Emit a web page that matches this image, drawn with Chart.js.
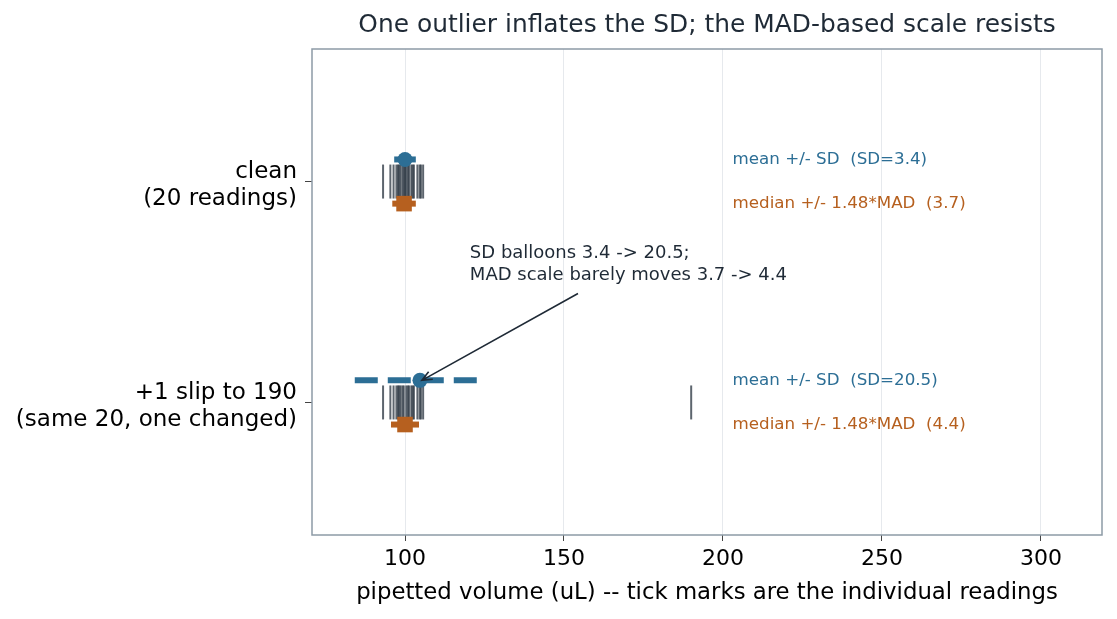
<!DOCTYPE html>
<html>
<head>
<meta charset="utf-8">
<script src="https://cdn.jsdelivr.net/npm/chart.js@4.4.1/dist/chart.umd.min.js"></script>
<style>
  body { margin: 0; background: #ffffff; }
  #wrap { width: 1117px; height: 619px; }
</style>
</head>
<body>
<div id="wrap"><canvas id="chart" width="1117" height="619"></canvas></div>
<script>
// row labels (top to bottom)
const rowLabels = [
    ['clean', '(20 readings)'],
    ['+1 slip to 190', '(same 20, one changed)']
];
const rowPos = [0, 1];

// individual readings
const cleanReadings = [93.1, 95.4, 96.4, 97.3, 97.8, 98.2, 98.6, 99.2, 99.6, 100.0,
                       100.4, 100.9, 101.3, 102.0, 102.4, 102.8, 103.9, 104.6, 105.0, 105.7];
const slipReadings = [93.1, 95.4, 96.4, 97.3, 97.8, 98.2, 98.6, 99.2, 99.6, 190.0,
                      100.4, 100.9, 101.3, 102.0, 102.4, 102.8, 103.9, 104.6, 105.0, 105.7];

// summary stats per row
const means = [100.0, 104.7];
const sds = [3.4, 20.5];
const medians = [99.7, 100.0];
const madScales = [3.7, 4.4];

const meanTexts = ['mean +/- SD  (SD=3.4)', 'mean +/- SD  (SD=20.5)'];
const medianTexts = ['median +/- 1.48*MAD  (3.7)', 'median +/- 1.48*MAD  (4.4)'];
const noteLines = ['SD balloons 3.4 -> 20.5;', 'MAD scale barely moves 3.7 -> 4.4'];
const titleText = 'One outlier inflates the SD; the MAD-based scale resists';

const xTicks = [100, 150, 200, 250, 300];

const BLUE = '#2c6e95';
const ORANGE = '#b6601f';
const INK = '#1f2a36';
const TICKCOL = 'rgba(31, 42, 54, 0.72)';
const FAMILY = '"DejaVu Sans", sans-serif';

function readingPoints(arr, y) {
    return arr.map(v => ({ x: v, y: y }));
}

const datasets = [
    {
        data: readingPoints(cleanReadings, rowPos[0]),
        pointStyle: 'line', rotation: 90, radius: 17,
        borderWidth: 2, borderColor: TICKCOL, order: 6
    },
    {
        data: readingPoints(slipReadings, rowPos[1]),
        pointStyle: 'line', rotation: 90, radius: 17,
        borderWidth: 2, borderColor: TICKCOL, order: 6
    },
    {
        data: [{ x: means[0] - sds[0], y: rowPos[0] - 0.1 }, { x: means[0] + sds[0], y: rowPos[0] - 0.1 }],
        showLine: true, borderWidth: 6, borderColor: BLUE, pointRadius: 0, borderCapStyle: 'butt', order: 3
    },
    {
        data: [{ x: means[1] - sds[1], y: rowPos[1] - 0.1 }, { x: means[1] + sds[1], y: rowPos[1] - 0.1 }],
        showLine: true, borderWidth: 6, borderColor: BLUE, pointRadius: 0, borderCapStyle: 'butt',
        borderDash: [23, 10], order: 3
    },
    {
        data: [{ x: medians[0] - madScales[0], y: rowPos[0] + 0.1 }, { x: medians[0] + madScales[0], y: rowPos[0] + 0.1 }],
        showLine: true, borderWidth: 6, borderColor: ORANGE, pointRadius: 0, borderCapStyle: 'butt', order: 3
    },
    {
        data: [{ x: medians[1] - madScales[1], y: rowPos[1] + 0.1 }, { x: medians[1] + madScales[1], y: rowPos[1] + 0.1 }],
        showLine: true, borderWidth: 6, borderColor: ORANGE, pointRadius: 0, borderCapStyle: 'butt', order: 3
    },
    {
        data: means.map((m, i) => ({ x: m, y: rowPos[i] - 0.1 })),
        pointStyle: 'circle', radius: 7.5, backgroundColor: BLUE, borderWidth: 0, order: 1
    },
    {
        data: medians.map((m, i) => ({ x: m, y: rowPos[i] + 0.1 })),
        pointStyle: 'rect', radius: 11, backgroundColor: ORANGE, borderWidth: 0, order: 1
    }
];

// frame, title, side labels and the arrow note
const extras = {
    id: 'extras',
    afterDatasetsDraw(chart) {
        const ctx = chart.ctx;
        const xs = chart.scales.x;
        const ys = chart.scales.y;
        ctx.save();
        ctx.font = '16.7px ' + FAMILY;
        ctx.textAlign = 'left';
        ctx.textBaseline = 'middle';
        rowPos.forEach((p, i) => {
            ctx.fillStyle = BLUE;
            ctx.fillText(meanTexts[i], xs.getPixelForValue(203), ys.getPixelForValue(p - 0.1));
            ctx.fillStyle = ORANGE;
            ctx.fillText(medianTexts[i], xs.getPixelForValue(203), ys.getPixelForValue(p + 0.1));
        });

        ctx.font = '18px ' + FAMILY;
        ctx.fillStyle = INK;
        ctx.fillText(noteLines[0], xs.getPixelForValue(120.4), ys.getPixelForValue(0.326));
        ctx.fillText(noteLines[1], xs.getPixelForValue(120.4), ys.getPixelForValue(0.425));

        // arrow
        const x0 = xs.getPixelForValue(154.4), y0 = ys.getPixelForValue(0.507);
        const x1 = xs.getPixelForValue(105.3), y1 = ys.getPixelForValue(0.9);
        ctx.strokeStyle = INK;
        ctx.lineWidth = 1.6;
        ctx.beginPath();
        ctx.moveTo(x0, y0);
        ctx.lineTo(x1, y1);
        const ang = Math.atan2(y1 - y0, x1 - x0);
        const hl = 11;
        ctx.moveTo(x1 - hl * Math.cos(ang - 0.4), y1 - hl * Math.sin(ang - 0.4));
        ctx.lineTo(x1, y1);
        ctx.lineTo(x1 - hl * Math.cos(ang + 0.4), y1 - hl * Math.sin(ang + 0.4));
        ctx.stroke();
        ctx.restore();
    },
    afterDraw(chart) {
        const a = chart.chartArea;
        const ctx = chart.ctx;
        ctx.save();
        ctx.strokeStyle = '#8d9ba6';
        ctx.lineWidth = 1.5;
        ctx.strokeRect(a.left, a.top, a.right - a.left, a.bottom - a.top);

        ctx.font = '24.9px ' + FAMILY;
        ctx.fillStyle = INK;
        ctx.textAlign = 'center';
        ctx.textBaseline = 'middle';
        ctx.fillText(titleText, (a.left + a.right) / 2, 26);
        ctx.restore();
    }
};

new Chart(document.getElementById('chart'), {
    type: 'scatter',
    data: { datasets: datasets },
    plugins: [extras],
    options: {
        responsive: false,
        animation: false,
        devicePixelRatio: 1,
        layout: { autoPadding: false, padding: { left: 0, right: 15, top: 49, bottom: 0 } },
        plugins: {
            legend: { display: false },
            tooltip: { enabled: false },
            title: { display: false }
        },
        scales: {
            x: {
                type: 'linear',
                min: 70.75,
                max: 319.2,
                afterBuildTicks: scale => { scale.ticks = xTicks.map(v => ({ value: v })); },
                afterFit: scale => {
                    scale.height = 84;
                    scale.paddingLeft = 0;
                    scale.paddingRight = 0;
                },
                grid: { color: '#e6e9ed', lineWidth: 1, tickLength: 6, tickColor: '#444', drawTicks: true },
                border: { display: false },
                ticks: { color: '#000', padding: 5, font: { family: FAMILY, size: 22 } },
                title: {
                    display: true,
                    text: 'pipetted volume (uL) -- tick marks are the individual readings',
                    color: '#000',
                    font: { family: FAMILY, size: 22.8 },
                    padding: { top: 0, bottom: 12 }
                }
            },
            y: {
                type: 'linear',
                min: -0.6,
                max: 1.6,
                reverse: true,
                afterBuildTicks: scale => { scale.ticks = rowPos.map(v => ({ value: v })); },
                afterFit: scale => { scale.width = 312; },
                grid: { drawOnChartArea: false, tickLength: 7, tickColor: '#444' },
                border: { display: false },
                ticks: {
                    color: '#000',
                    padding: 8,
                    labelOffset: 4,
                    font: { family: FAMILY, size: 23, lineHeight: 1.2 },
                    callback: (v) => rowLabels[rowPos.indexOf(v)]
                }
            }
        }
    }
});
</script>
</body>
</html>
